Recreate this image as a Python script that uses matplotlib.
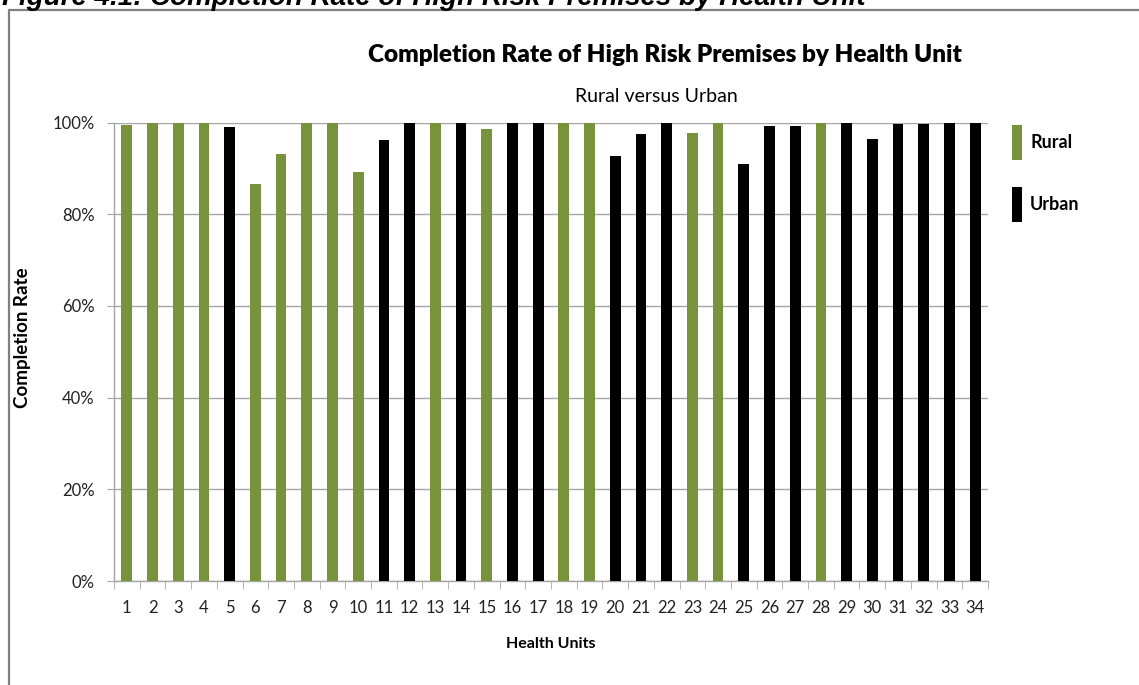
import matplotlib
matplotlib.use("Agg")
import matplotlib.pyplot as plt
from matplotlib.lines import Line2D
from matplotlib.patches import Patch
from matplotlib.ticker import PercentFormatter, FixedLocator
import numpy as np

# health unit number, completion rate (%), area type
units = list(range(1, 35))
rates = [99.5, 100, 100, 100, 99.1, 86.6, 93.1, 100, 100, 89.2,
         96.2, 100, 100, 100, 98.6, 100, 100, 100, 100, 92.8,
         97.5, 100, 97.7, 100, 91.0, 99.2, 99.2, 100, 100, 96.5,
         99.6, 99.6, 100, 100]
area = ["Rural", "Rural", "Rural", "Rural", "Urban", "Rural", "Rural", "Rural", "Rural", "Rural",
        "Urban", "Urban", "Rural", "Urban", "Rural", "Urban", "Urban", "Rural", "Rural", "Urban",
        "Urban", "Urban", "Rural", "Rural", "Urban", "Urban", "Urban", "Rural", "Urban", "Urban",
        "Urban", "Urban", "Urban", "Urban"]
y_ticks = [0, 20, 40, 60, 80, 100]

COLORS = {"Rural": "#77933C", "Urban": "#000000"}
FONT = "Lato"
W, H = 1139, 685

fig = plt.figure(figsize=(W / 100, H / 100), dpi=100, facecolor="white")

# plot area in pixel terms
x0, x1, y0, y1 = 114, 988, 122.5, 581
ax = fig.add_axes([x0 / W, 1 - y1 / H, (x1 - x0) / W, (y1 - y0) / H])

ax.bar(units, rates, width=0.42, color=[COLORS[a] for a in area], zorder=3)

ax.set_xlim(0.5, 34.5)
ax.set_ylim(0, 100)
ax.yaxis.set_major_locator(FixedLocator(y_ticks))
ax.yaxis.set_major_formatter(PercentFormatter(100, decimals=0))
ax.grid(axis="y", color="#A6A6A6", linewidth=1.0, zorder=0)

ax.set_xticks(units)
ax.set_xticklabels([str(u) for u in units], fontsize=12, family=FONT, color="#222222")
ax.set_xticks(np.arange(0.5, 35, 1), minor=True)
ax.tick_params(axis="x", which="major", length=0, pad=14)
ax.tick_params(axis="x", which="minor", length=6, color="#A6A6A6", direction="out")
ax.tick_params(axis="y", length=5, color="#A6A6A6", pad=9, labelsize=12, labelcolor="#222222")
for lab in ax.get_yticklabels():
    lab.set_family(FONT)

for side in ("top", "right"):
    ax.spines[side].set_visible(False)
for side in ("left", "bottom"):
    ax.spines[side].set_color("#A6A6A6")
    ax.spines[side].set_linewidth(1.0)

ax.set_xlabel("Health Units", family=FONT, fontsize=11.5, fontweight="bold", labelpad=15)
ax.set_ylabel("Completion Rate", family=FONT, fontsize=13.5, fontweight="bold")
ax.yaxis.set_label_coords((31 - x0) / (x1 - x0), 0.53)

# legend, tall narrow swatches like the original
handles = [Patch(facecolor=COLORS[k], edgecolor="none", label=k) for k in ("Rural", "Urban")]
leg = fig.legend(handles=handles, loc="upper left", bbox_to_anchor=(1012 / W, 1 - 125 / H),
                 frameon=False, borderpad=0, borderaxespad=0, handlelength=0.55,
                 handleheight=2.6, handletextpad=0.45, labelspacing=1.5,
                 prop={"family": FONT, "weight": "bold", "size": 13})

# titles
fig.text(665 / W, 1 - 55 / H, "Completion Rate of High Risk Premises by Health Unit",
         ha="center", va="center", family=FONT, fontsize=17.5, fontweight="heavy")
fig.text(656 / W, 1 - 96 / H, "Rural versus Urban", ha="center", va="center",
         family=FONT, fontsize=14)

# document caption, clipped at the top edge
fig.text(2 / W, 1 - 5 / H, "Figure 4.1: Completion Rate of High Risk Premises by Health Unit",
         ha="left", va="baseline", family="Liberation Sans", fontsize=20,
         fontweight="bold", style="italic")

# chart frame (only left and top edges fall inside the crop)
fig.add_artist(Line2D([8.5 / W, 8.5 / W, 1], [0, 1 - 9.5 / H, 1 - 9.5 / H],
                      transform=fig.transFigure, color="#808080", linewidth=1.6))

fig.savefig("out.png", dpi=100, facecolor="white")
